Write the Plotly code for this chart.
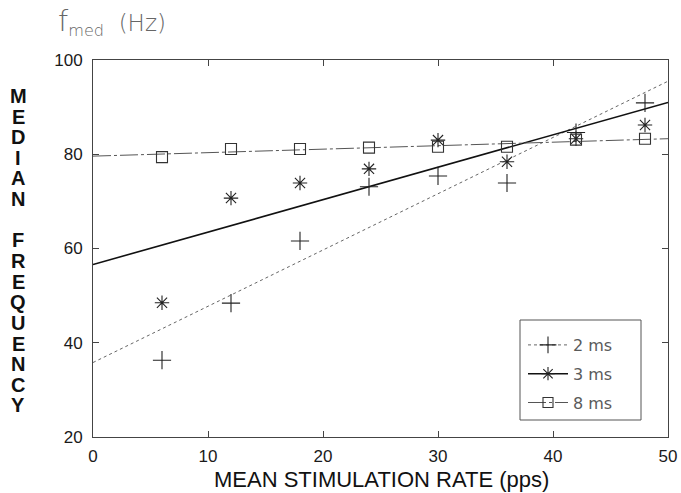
import plotly.graph_objects as go

# Mean stimulation rate (pulses per second)
rate = [6, 12, 18, 24, 30, 36, 42, 48]

# Median frequency (Hz) for each pulse duration
fmed_2ms = [36.3, 48.4, 61.6, 73.1, 75.4, 73.9, 84.6, 90.9]
fmed_3ms = [48.5, 70.7, 73.9, 76.9, 83.0, 78.4, 83.3, 86.2]
fmed_8ms = [79.4, 81.1, 81.1, 81.4, 81.6, 81.6, 83.1, 83.3]

# Linear fits: value at rate 0 and at rate 50
fit_rate = [0, 50]
fit_2ms = [35.8, 95.5]
fit_3ms = [56.6, 91.0]
fit_8ms = [79.6, 83.3]

series_names = ["2 ms", "3 ms", "8 ms"]
x_ticks = [0, 10, 20, 30, 40, 50]
y_ticks = [20, 40, 60, 80, 100]

FONT = "Liberation Sans, Arial, Helvetica, sans-serif"
THIN = "DejaVu Sans, Liberation Sans, sans-serif"
INK = "#1a1a1a"

W, H = 681, 493
L, R, T, B = 93, 13, 60, 56

styles = [
    dict(symbol="cross-thin-open", size=13, color="#222222",
         line=dict(color="#666666", width=1, dash="dot")),
    dict(symbol="asterisk-open", size=12, color="#222222",
         line=dict(color="#111111", width=1.6, dash="solid")),
    dict(symbol="square-open", size=11, color="#333333",
         line=dict(color="#555555", width=1, dash="18px,3px,3px,3px")),
]

fig = go.Figure()

fits = [fit_2ms, fit_3ms, fit_8ms]
points = [fmed_2ms, fmed_3ms, fmed_8ms]

# fitted lines
for fit, st in zip(fits, styles):
    fig.add_trace(go.Scatter(x=fit_rate, y=fit, mode="lines", line=st["line"],
                             showlegend=False, hoverinfo="skip"))

# measured points
for vals, st in zip(points, styles):
    fig.add_trace(go.Scatter(
        x=rate, y=vals, mode="markers", showlegend=False,
        marker=dict(symbol=st["symbol"], size=st["size"], color=st["color"],
                    line=dict(color=st["color"], width=1.1)),
    ))

# legend entries (line sample + marker), one group each for even spacing
for name, st in zip(series_names, styles):
    fig.add_trace(go.Scatter(
        x=[None], y=[None], mode="lines+markers", name=name, line=st["line"],
        legendgroup=name,
        marker=dict(symbol=st["symbol"], size=st["size"] - 1, color=st["color"],
                    line=dict(color=st["color"], width=1.1)),
    ))

axis_common = dict(
    showline=True, linecolor="#444444", linewidth=1, mirror="ticks",
    ticks="inside", ticklen=6, tickcolor="#444444", tickwidth=1,
    showgrid=False, zeroline=False, automargin=False,
    tickfont=dict(family=FONT, size=17, color=INK),
)

fig.update_xaxes(range=[0, 50], tickvals=x_ticks, ticklabelstandoff=4,
                 **axis_common)
fig.update_yaxes(range=[20, 100], tickvals=y_ticks, ticklabelstandoff=6,
                 **axis_common)

plot_w = W - L - R
plot_h = H - T - B


def px_x(px):
    return (px - L) / plot_w


def px_y(py):
    return (H - B - py) / plot_h


annotations = []

# vertical stacked y-axis title
letters = list("MEDIAN") + list("FREQUENCY")
step = 20.6
letter_y = [96 + i * step for i in range(6)] + [240.5 + i * step for i in range(9)]
for ch, py in zip(letters, letter_y):
    annotations.append(dict(
        text="<b>" + ch + "</b>", x=px_x(18), y=px_y(py),
        xref="paper", yref="paper",
        xanchor="center", yanchor="middle", showarrow=False,
        font=dict(family=FONT, size=20, color="#111111"),
    ))

# x-axis title
annotations.append(dict(
    text="MEAN STIMULATION RATE (pps)", x=px_x(381), y=px_y(479),
    xref="paper", yref="paper", xanchor="center", yanchor="middle",
    showarrow=False, font=dict(family=FONT, size=22, color="#111111"),
))

# unit label above the plot
annotations.append(dict(
    text="<span style='font-size:29px'>f</span><sub>med</sub>\u00a0 (Hz)",
    x=px_x(56), y=px_y(22), xref="paper", yref="paper",
    xanchor="left", yanchor="middle", showarrow=False,
    font=dict(family=THIN, size=23, color="#666666", weight=200),
))

fig.update_layout(
    width=W, height=H,
    margin=dict(l=L, r=R, t=T, b=B),
    paper_bgcolor="white", plot_bgcolor="white",
    annotations=annotations,
    shapes=[dict(
        type="rect", xref="paper", yref="paper",
        x0=px_x(520), x1=px_x(641), y0=px_y(420), y1=px_y(320),
        line=dict(color="#555555", width=1), fillcolor="rgba(0,0,0,0)",
        layer="above",
    )],
    legend=dict(
        x=px_x(523), y=px_y(328), xanchor="left", yanchor="top",
        borderwidth=0, bgcolor="rgba(0,0,0,0)",
        font=dict(family=THIN, size=16, color="#5a5a5a"),
        itemwidth=40, tracegroupgap=5,
    ),
)

fig.write_html("out.html")
